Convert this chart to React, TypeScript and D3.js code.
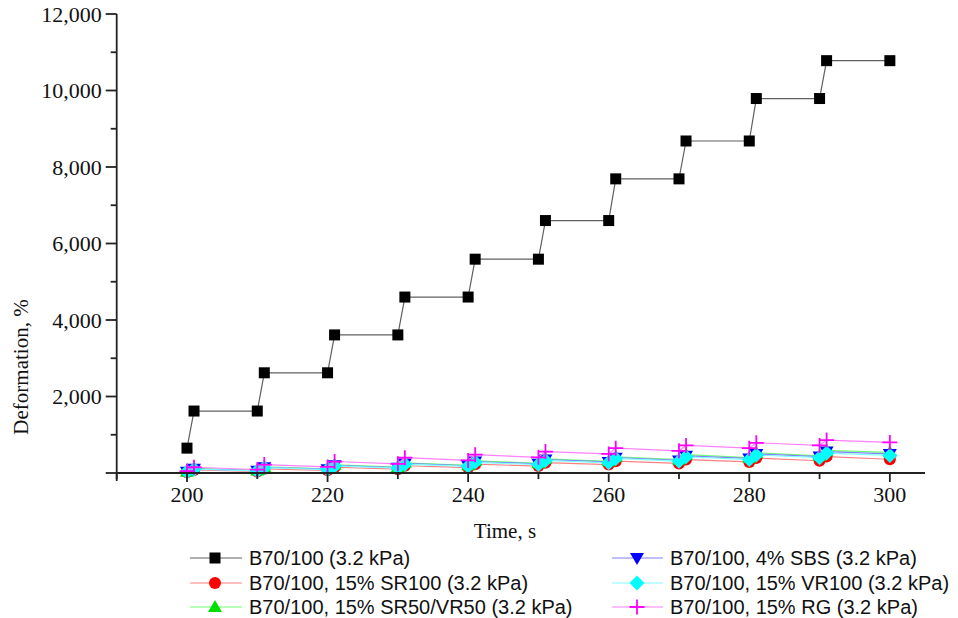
import React from "react";
import * as d3 from "d3";

const times = [200, 201, 210, 211, 220, 221, 230, 231, 240, 241, 250, 251, 260, 261, 270, 271, 280, 281, 290, 291, 300];

const b70 = [650, 1620, 1620, 2620, 2620, 3610, 3610, 4600, 4600, 5590, 5590, 6600, 6600, 7690, 7690, 8680, 8680, 9790, 9790, 10780, 10780];
const sr100 = [20, 80, 40, 110, 70, 150, 100, 190, 140, 230, 180, 270, 220, 310, 250, 350, 290, 390, 320, 430, 360];
const sr50vr50 = [35, 120, 65, 160, 110, 215, 155, 265, 200, 320, 255, 370, 305, 425, 350, 480, 400, 530, 450, 590, 540];
const sbs = [30, 110, 60, 150, 100, 200, 140, 250, 190, 300, 240, 350, 290, 400, 330, 450, 380, 500, 430, 560, 500];
const vr100 = [30, 100, 55, 140, 90, 185, 130, 230, 175, 280, 220, 330, 265, 380, 310, 425, 350, 470, 400, 520, 460];
const rg = [50, 150, 90, 220, 160, 300, 240, 400, 330, 480, 410, 560, 500, 650, 580, 720, 650, 790, 720, 860, 800];

const seriesNames = [
  "B70/100 (3.2 kPa)",
  "B70/100, 15% SR100 (3.2 kPa)",
  "B70/100, 15% SR50/VR50 (3.2 kPa)",
  "B70/100, 4% SBS (3.2 kPa)",
  "B70/100, 15% VR100 (3.2 kPa)",
  "B70/100, 15% RG (3.2 kPa)",
];

const xTicks = [200, 220, 240, 260, 280, 300];
const xMinorTicks = [190, 210, 230, 250, 270, 290];
const yTicks = [0, 2000, 4000, 6000, 8000, 10000, 12000];
const yMinorTicks = [1000, 3000, 5000, 7000, 9000, 11000];

type Marker = "square" | "circle" | "triangleDown" | "triangleUp" | "diamond" | "plus";

const seriesData = [b70, sr100, sr50vr50, sbs, vr100, rg];
const markerColors = ["#000000", "#ff0000", "#00e000", "#0000ff", "#00ffff", "#ff00ff"];
const lineColors = ["#606060", "#ff8080", "#70ff70", "#8080ff", "#80ffff", "#ff80ff"];
const markers: Marker[] = ["square", "circle", "triangleUp", "triangleDown", "diamond", "plus"];

function MarkerShape({ type, x, y, color }: { type: Marker; x: number; y: number; color: string }) {
  switch (type) {
    case "square":
      return <rect x={x - 5.5} y={y - 5.5} width={11} height={11} fill={color} />;
    case "circle":
      return <circle cx={x} cy={y} r={6} fill={color} />;
    case "triangleUp":
      return <path d={`M${x},${y - 7}L${x + 7},${y + 5}L${x - 7},${y + 5}Z`} fill={color} />;
    case "triangleDown":
      return <path d={`M${x},${y + 7}L${x + 7},${y - 5}L${x - 7},${y - 5}Z`} fill={color} />;
    case "diamond":
      return <path d={`M${x},${y - 7.5}L${x + 7.5},${y}L${x},${y + 7.5}L${x - 7.5},${y}Z`} fill={color} />;
    case "plus":
      return (
        <path d={`M${x - 7.5},${y}H${x + 7.5}M${x},${y - 7.5}V${y + 7.5}`} stroke={color} strokeWidth={1.8} fill="none" />
      );
  }
  return null;
}

export default function App() {
  const W = 958;
  const H = 618;
  const x = d3.scaleLinear().domain([190, 305]).range([116.7, 925]);
  const y = d3.scaleLinear().domain([0, 12000]).range([473, 14]);
  const line = d3
    .line<[number, number]>()
    .x((d) => x(d[0]))
    .y((d) => y(d[1]));
  const fmt = d3.format(",");
  const serif = "'Liberation Serif', 'Times New Roman', serif";
  const sans = "'Liberation Sans', Arial, sans-serif";

  const legendCols = [
    { x0: 190, x1: 242, mx: 215, tx: 249 },
    { x0: 612, x1: 663, mx: 637, tx: 670 },
  ];
  const legendRows = [558, 583, 607];
  const legendOrder = [0, 1, 2, 3, 4, 5];

  return (
    <div style={{ position: "fixed", left: 0, top: 0, width: W, height: H, background: "#fff" }}>
      <svg width={W} height={H} style={{ display: "block" }}>
        <rect width={W} height={H} fill="#fff" />
        {seriesData.map((vals, si) => {
          const pts: [number, number][] = times.map((t, i) => [t, vals[i]]);
          return (
            <g key={si}>
              <path d={line(pts) || ""} fill="none" stroke={lineColors[si]} strokeWidth={1.2} />
              {pts.map((p, i) => (
                <MarkerShape key={i} type={markers[si]} x={x(p[0])} y={y(p[1])} color={markerColors[si]} />
              ))}
            </g>
          );
        })}
        <line x1={x(190)} x2={x(305)} y1={y(0)} y2={y(0)} stroke="#222" strokeWidth={1.8} />
        <line x1={x(190)} x2={x(190)} y1={y(0) + 8} y2={y(12000)} stroke="#222" strokeWidth={1.8} />
        {xTicks.map((t) => (
          <g key={t}>
            <line x1={x(t)} x2={x(t)} y1={y(0)} y2={y(0) + 9} stroke="#222" strokeWidth={1.8} />
            <text x={x(t)} y={y(0) + 29} textAnchor="middle" fontFamily={serif} fontSize={22} fill="#111">
              {t}
            </text>
          </g>
        ))}
        {xMinorTicks.map((t) => (
          <line key={t} x1={x(t)} x2={x(t)} y1={y(0)} y2={y(0) + 6} stroke="#222" strokeWidth={1.8} />
        ))}
        {yTicks.map((t) => (
          <g key={t}>
            <line x1={x(190) - 11} x2={x(190)} y1={y(t)} y2={y(t)} stroke="#222" strokeWidth={1.8} />
            {t > 0 && (
              <text x={x(190) - 15} y={y(t) + 7.5} textAnchor="end" fontFamily={serif} fontSize={22} fill="#111">
                {fmt(t)}
              </text>
            )}
          </g>
        ))}
        {yMinorTicks.map((t) => (
          <line key={t} x1={x(190) - 6} x2={x(190)} y1={y(t)} y2={y(t)} stroke="#222" strokeWidth={1.8} />
        ))}
        <text x={505} y={538} textAnchor="middle" fontFamily={serif} fontSize={21} fill="#111">
          Time, s
        </text>
        <text
          transform={`translate(28,367) rotate(-90)`}
          textAnchor="middle"
          fontFamily={serif}
          fontSize={21}
          fill="#111"
        >
          Deformation, %
        </text>
        {legendOrder.map((si, k) => {
          const col = legendCols[Math.floor(k / 3)];
          const ry = legendRows[k % 3];
          return (
            <g key={si}>
              <line x1={col.x0} x2={col.x1} y1={ry} y2={ry} stroke={lineColors[si]} strokeWidth={1.2} />
              <MarkerShape type={markers[si]} x={col.mx} y={ry} color={markerColors[si]} />
              <text x={col.tx} y={ry + 7} fontFamily={sans} fontSize={20} fill="#111">
                {seriesNames[si]}
              </text>
            </g>
          );
        })}
      </svg>
    </div>
  );
}
